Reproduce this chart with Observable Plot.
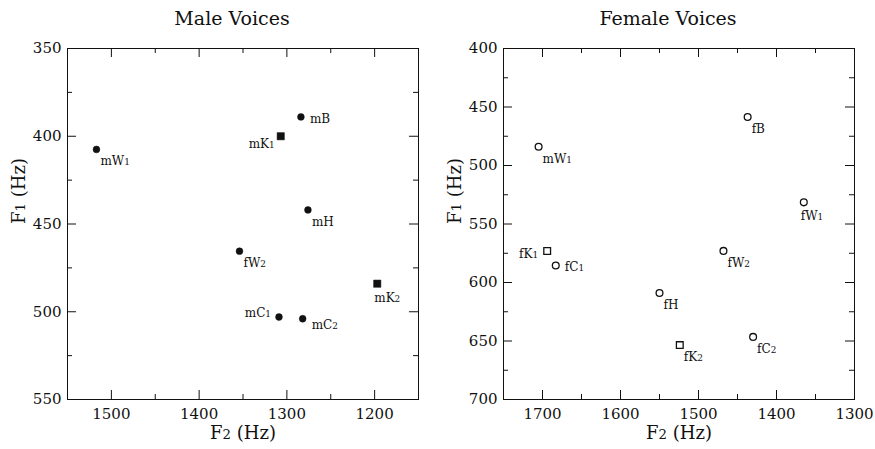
<!DOCTYPE html>
<html>
<head>
<meta charset="utf-8">
<script src="https://cdn.jsdelivr.net/npm/d3@7"></script>
<script src="https://cdn.jsdelivr.net/npm/@observablehq/plot@0.6"></script>
<style>
  html, body { margin: 0; padding: 0; background: #fff; }
  body { font-family: "DejaVu Serif", serif; color: #111; }
  #wrap { display: flex; width: 875px; height: 449px; }
  .panel { position: relative; }
  .title { height: 36px; position: relative; }
  .title span { position: absolute; top: 9px; transform: translateX(-50%); font-size: 19px; white-space: nowrap; line-height: 1; }
  svg { display: block; }
</style>
</head>
<body>
<div id="wrap">
  <div class="panel" id="male"><div class="title"><span style="left:232px">Male Voices</span></div></div>
  <div class="panel" id="female"><div class="title"><span style="left:231px">Female Voices</span></div></div>
</div>
<script>
// ---- Male voices ----
const maleLabels = ["mW1", "mK1", "mB", "mH", "fW2", "mK2", "mC1", "mC2"];
const maleF2 = [1517, 1307, 1284, 1276, 1354, 1197, 1309, 1282];
const maleF1 = [407.5, 400, 389, 442, 465.5, 484, 503, 504];
const maleShape = ["circle", "square", "circle", "circle", "circle", "square", "circle", "circle"];
const malePlace = ["below", "lowerleft", "right", "below", "below", "under", "upperleft", "lowerright"];
const maleXTicks = [1500, 1400, 1300, 1200];
const maleXMinor = [1450, 1350, 1250];
const maleYTicks = [350, 400, 450, 500, 550];
const maleYMinor = [375, 425, 475, 525];

// ---- Female voices ----
const femaleLabels = ["mW1", "fB", "fW1", "fK1", "fC1", "fW2", "fH", "fK2", "fC2"];
const femaleF2 = [1705, 1437, 1365, 1694, 1683, 1468, 1550, 1524, 1430];
const femaleF1 = [484, 458.5, 531.5, 573, 585.5, 573, 609, 653.5, 646.5];
const femaleShape = ["circle", "circle", "circle", "square", "circle", "circle", "circle", "square", "circle"];
const femalePlace = ["below", "below", "under", "left", "right", "below", "below", "below", "below"];
const femaleXTicks = [1700, 1600, 1500, 1400, 1300];
const femaleXMinor = [1650, 1550, 1450, 1350];
const femaleYTicks = [400, 450, 500, 550, 600, 650, 700];
const femaleYMinor = [425, 475, 525, 575, 625, 675];

const placements = {
  below:      {dx: 4,  dy: 12, textAnchor: "start"},
  under:      {dx: -3, dy: 14, textAnchor: "start"},
  right:      {dx: 9,  dy: 2,  textAnchor: "start"},
  lowerright: {dx: 9,  dy: 6,  textAnchor: "start"},
  left:       {dx: -9, dy: 3,  textAnchor: "end"},
  lowerleft:  {dx: -6, dy: 8,  textAnchor: "end"},
  upperleft:  {dx: -8, dy: -4, textAnchor: "end"}
};

const INK = "#111";

function panel(cfg) {
  const height = 413, mt = 12, mb = 50;
  const fh = height - mt - mb;
  const fw = cfg.width - cfg.ml - cfg.mr;
  const rows = cfg.labels.map((l, i) => ({label: l, f2: cfg.f2[i], f1: cfg.f1[i], shape: cfg.shape[i], place: cfg.place[i]}));
  const maj = 9, mnr = 5;
  const marks = [
    Plot.frame({stroke: INK, strokeWidth: 1}),
    Plot.tickX(cfg.xTicks, {x: d => d, insetBottom: fh - maj, stroke: INK}),
    Plot.tickX(cfg.xTicks, {x: d => d, insetTop: fh - maj, stroke: INK}),
    Plot.tickX(cfg.xMinor, {x: d => d, insetBottom: fh - mnr, stroke: INK}),
    Plot.tickX(cfg.xMinor, {x: d => d, insetTop: fh - mnr, stroke: INK}),
    Plot.tickY(cfg.yTicks, {y: d => d, insetRight: fw - maj, stroke: INK}),
    Plot.tickY(cfg.yTicks, {y: d => d, insetLeft: fw - maj, stroke: INK}),
    Plot.tickY(cfg.yMinor, {y: d => d, insetRight: fw - mnr, stroke: INK}),
    Plot.tickY(cfg.yMinor, {y: d => d, insetLeft: fw - mnr, stroke: INK}),
    Plot.axisX(cfg.xTicks, {anchor: "bottom", tickSize: 0, tickPadding: 9, tickFormat: d => String(d), label: null, fontSize: 15, fill: INK}),
    Plot.axisY(cfg.yTicks, {anchor: "left", tickSize: 0, tickPadding: 6, tickFormat: d => String(d), label: null, fontSize: 15, fill: INK}),
    Plot.text(["F2 (Hz)"], {text: d => d, frameAnchor: "bottom", dy: 39, fontSize: 18, fill: INK, className: "axlab"}),
    Plot.text(["F1 (Hz)"], {text: d => d, frameAnchor: "left", dx: -48, rotate: -90, fontSize: 18, fill: INK, className: "axlab"}),
    Plot.dot(rows.filter(d => d.shape === "circle"), {
      x: "f2", y: "f1", symbol: "circle", r: 3.4,
      fill: cfg.filled ? INK : "white", stroke: INK, strokeWidth: cfg.filled ? 0.5 : 1.3
    }),
    Plot.dot(rows.filter(d => d.shape === "square"), {
      x: "f2", y: "f1", symbol: "square", r: cfg.filled ? 4.1 : 3.8,
      fill: cfg.filled ? INK : "white", stroke: INK, strokeWidth: cfg.filled ? 0.5 : 1.3
    })
  ];
  for (const [key, p] of Object.entries(placements)) {
    const sub = rows.filter(d => d.place === key);
    if (!sub.length) continue;
    marks.push(Plot.text(sub, {x: "f2", y: "f1", text: "label", dx: p.dx, dy: p.dy, textAnchor: p.textAnchor, fontSize: 12, fill: INK, className: "ptlab"}));
  }
  const svg = Plot.plot({
    width: cfg.width, height,
    marginTop: mt, marginBottom: mb, marginLeft: cfg.ml, marginRight: cfg.mr,
    style: {fontFamily: "DejaVu Serif, serif", background: "white", overflow: "visible"},
    x: {domain: cfg.xDomain, reverse: true},
    y: {domain: cfg.yDomain, reverse: true},
    marks
  });
  // render trailing digits as small (old-style-like) figures
  d3.select(svg).selectAll("text").each(function () {
    const t = this.textContent;
    const m = t.match(/^(.*[A-Za-z])([12])(.*)$/);
    if (!m || this.querySelector("tspan")) return;
    const el = d3.select(this);
    el.text(null);
    el.append("tspan").text(m[1]);
    el.append("tspan").attr("font-size", "0.74em").text(m[2]);
    if (m[3]) el.append("tspan").text(m[3]);
  });
  return svg;
}

document.getElementById("male").appendChild(panel({
  width: 437, ml: 67, mr: 19,
  labels: maleLabels, f2: maleF2, f1: maleF1, shape: maleShape, place: malePlace,
  xDomain: [1150, 1550], yDomain: [350, 550],
  xTicks: maleXTicks, xMinor: maleXMinor, yTicks: maleYTicks, yMinor: maleYMinor,
  filled: true
}));
document.getElementById("female").appendChild(panel({
  width: 438, ml: 66, mr: 21,
  labels: femaleLabels, f2: femaleF2, f1: femaleF1, shape: femaleShape, place: femalePlace,
  xDomain: [1300, 1750], yDomain: [400, 700],
  xTicks: femaleXTicks, xMinor: femaleXMinor, yTicks: femaleYTicks, yMinor: femaleYMinor,
  filled: false
}));
</script>
</body>
</html>
